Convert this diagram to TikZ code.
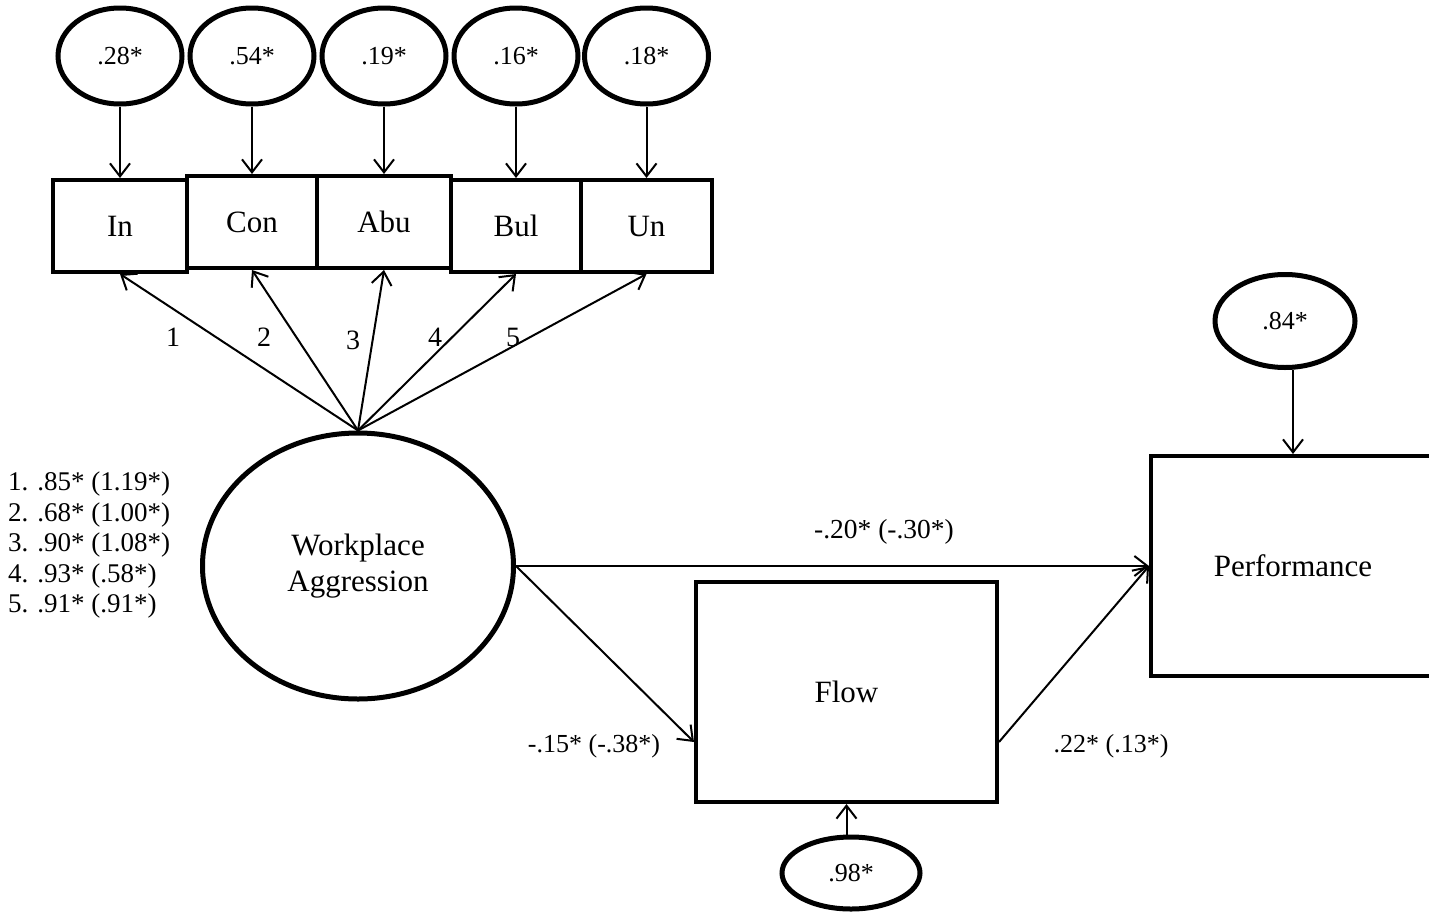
\documentclass[tikz,border=0pt]{standalone}
\usepackage{fontspec}
\setmainfont{Liberation Serif}
\usetikzlibrary{arrows.meta,shapes.geometric}
\begin{document}
\begin{tikzpicture}[x=1pt,y=-1pt,
  every node/.style={inner sep=0pt},
  lbl/.style={font=\fontsize{31}{36}\selectfont},
  num/.style={font=\fontsize{26}{30}\selectfont},
  obs/.style={draw, line width=4pt, lbl, minimum height=92pt},
  err/.style={draw, ellipse, line width=5pt, num},
  link/.style={line width=2pt, -{Straight Barb[length=13pt,width=20pt,line width=2pt]}}
]
\useasboundingbox (0,0) rectangle (1429,913);
\clip (0,0) rectangle (1429,913);

% indicator boxes
\node[obs, minimum width=134pt] (in)  at (120,226)   {In};
\node[obs, minimum width=130pt] (con) at (252,222)   {Con};
\node[obs, minimum width=134pt] (abu) at (384,222)   {Abu};
\node[obs, minimum width=130pt] (bul) at (516,226)   {Bul};
\node[obs, minimum width=131pt] (un)  at (646.5,226) {Un};

% indicator residuals
\node[err, minimum width=124pt, minimum height=96pt] (e1) at (120,56)   {.28*};
\node[err, minimum width=124pt, minimum height=96pt] (e2) at (252,56)   {.54*};
\node[err, minimum width=124pt, minimum height=96pt] (e3) at (384,56)   {.19*};
\node[err, minimum width=124pt, minimum height=96pt] (e4) at (516,56)   {.16*};
\node[err, minimum width=124pt, minimum height=96pt] (e5) at (646.5,56) {.18*};
\draw[link] (e1) -- (in);
\draw[link] (e2) -- (con);
\draw[link] (e3) -- (abu);
\draw[link] (e4) -- (bul);
\draw[link] (e5) -- (un);

% latent factor
\node[draw, ellipse, line width=5pt, lbl, align=center,
      minimum width=311pt, minimum height=266pt] (wa) at (358,566) {Workplace\\Aggression};

% loadings
\draw[link] (wa.north) -- (in.south);
\draw[link] (wa.north) -- (con.south);
\draw[link] (wa.north) -- (abu.south);
\draw[link] (wa.north) -- (bul.south);
\draw[link] (wa.north) -- (un.south);
\node[num, font=\fontsize{28}{32}\selectfont] (l1) at (173,337) {1};
\node[num, font=\fontsize{28}{32}\selectfont] (l2) at (264,337) {2};
\node[num, font=\fontsize{28}{32}\selectfont] (l3) at (353,340) {3};
\node[num, font=\fontsize{28}{32}\selectfont] (l4) at (435,337) {4};
\node[num, font=\fontsize{28}{32}\selectfont] (l5) at (513,337) {5};

% loading estimates
\node[align=left, anchor=west, font=\fontsize{27}{30.5}\selectfont] (list) at (8,545)
  {1. .85* (1.19*)\\2. .68* (1.00*)\\3. .90* (1.08*)\\4. .93* (.58*)\\5. .91* (.91*)};

% outcome variables
\node[obs, minimum width=284pt, minimum height=220pt] (perf) at (1293,566) {Performance};
\node[obs, minimum width=301pt, minimum height=220pt] (flow) at (846.5,692) {Flow};

\node[err, minimum width=140pt, minimum height=93pt] (e84) at (1285,321) {.84*};
\node[err, minimum width=138pt, minimum height=72pt] (e98) at (851,873) {.98*};
\draw[link] (e84.south -| perf.north) -- (perf.north);
\draw[link] (e98.north -| flow.south) -- (flow.south);

% structural paths
\coordinate (flowin)  at ([yshift=-50pt]flow.west);
\coordinate (flowout) at ([yshift=-50pt]flow.east);
\draw[link] (wa.east) -- (perf.west);
\draw[link] (wa.east) -- (flowin);
\draw[link] (flowout) -- (perf.west);

\node[num, font=\fontsize{27.5}{32}\selectfont] (p1) at (884,532)  {-.20* (-.30*)};
\node[num] (p2) at (594,746)  {-.15* (-.38*)};
\node[num] (p3) at (1111,746) {.22* (.13*)};
\end{tikzpicture}
\end{document}
